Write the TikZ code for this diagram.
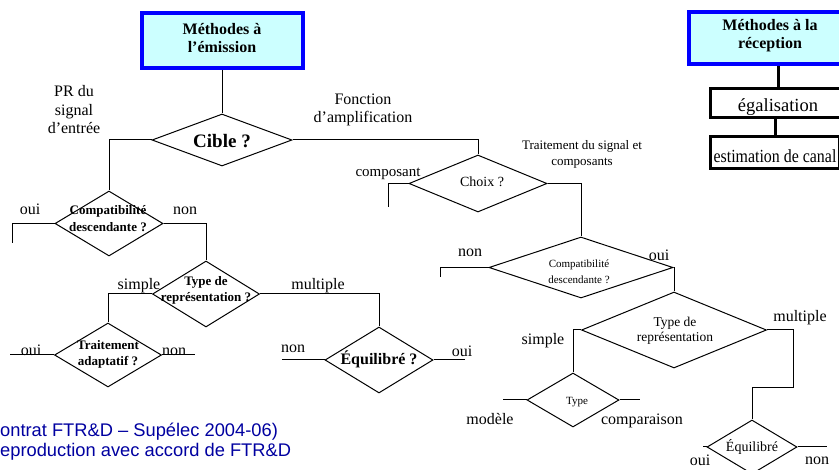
\documentclass[tikz,border=0pt]{standalone}
\usepackage{fontspec}
\setmainfont{Liberation Serif}
\newfontfamily\arialfont{Liberation Sans}
\usetikzlibrary{shapes.geometric}

\definecolor{bleu}{RGB}{0,0,255}
\definecolor{cyanclair}{RGB}{204,255,255}
\definecolor{bleutexte}{RGB}{0,0,160}

\tikzstyle{methode}= [rectangle,draw=bleu,line width=4pt,fill=cyanclair]
\tikzstyle{etape}= [rectangle,draw,black,line width=3pt]
\tikzstyle{question}= [diamond,draw,black,line width=1pt,inner sep=0pt]
\tikzstyle{lien}= [black,line width=1pt]
\tikzstyle{epais}= [black,line width=3pt]
\tikzstyle{etiquette}= [inner sep=0pt,anchor=base,align=center,font=\fontsize{16}{18.5}\selectfont]
\tikzstyle{gras}= [inner sep=0pt,anchor=base,align=center,font=\bfseries\fontsize{13}{17}\selectfont]
\tikzstyle{petit}= [inner sep=0pt,anchor=base,align=center,font=\fontsize{13}{16}\selectfont]

\begin{document}
\begin{tikzpicture}[x=1pt,y=-1pt]
		\useasboundingbox (0,0) rectangle (839,470);

		\node (emission) at (222,40.5) [methode,minimum width=161pt,minimum height=55pt] {};
		\node (emission-t) at (222,53) [gras,font=\bfseries\fontsize{16}{18}\selectfont] {Méthodes à\\l'émission};

		\node (reception) at (770,38) [methode,minimum width=162pt,minimum height=52pt] {};
		\node (reception-t) at (770,49) [gras,font=\bfseries\fontsize{16}{18}\selectfont] {Méthodes à la\\réception};

		\node (egal) at (778,103) [etape,minimum width=135pt,minimum height=29pt] {};
		\node (egal-t) at (778,112) [etiquette,font=\fontsize{18.5}{20}\selectfont] {égalisation};

		\node (estim) at (775,152.5) [etape,minimum width=129pt,minimum height=32pt] {};
		\node (estim-t) at (775,163) [etiquette,font=\fontsize{18.5}{20}\selectfont] {\scalebox{0.86}[1]{estimation de canal}};

		% branche de gauche
		\node (cible) at (222,140) [question,minimum width=140pt,minimum height=52pt] {};
		\node (cible-t) at (222,148) [gras,font=\bfseries\fontsize{19}{20}\selectfont] {Cible ?};

		\node (compL) at (109,223.5) [question,minimum width=108pt,minimum height=65pt] {};
		\node (compL-t) at (108,232) [gras] {Compatibilité\\descendante ?};

		\node (typeL) at (206,294) [question,minimum width=107pt,minimum height=66pt] {};
		\node (typeL-t) at (206,302) [gras,font=\bfseries\fontsize{13}{16}\selectfont] {Type de\\représentation ?};

		\node (traitL) at (108,355) [question,minimum width=107pt,minimum height=64pt] {};
		\node (traitL-t) at (108,366) [gras,font=\bfseries\fontsize{13}{16}\selectfont] {Traitement\\adaptatif ?};

		\node (equiL) at (379,360) [question,minimum width=108pt,minimum height=66pt] {};
		\node (equiL-t) at (379,365) [gras,font=\bfseries\fontsize{16}{18}\selectfont] {Équilibré ?};

		% branche de droite
		\node (choix) at (478,183.5) [question,minimum width=138pt,minimum height=57pt] {};
		\node (choix-t) at (482,187) [petit,font=\fontsize{14}{16}\selectfont] {Choix ?};

		\node (compR) at (581,267.5) [question,minimum width=184pt,minimum height=61pt] {};
		\node (compR-t) at (579,284) [petit,font=\fontsize{11}{16}\selectfont] {Compatibilité\\descendante ?};

		\node (typeR) at (674,330) [question,minimum width=185pt,minimum height=76pt] {};
		\node (typeR-t) at (675,342) [petit,font=\fontsize{13.5}{15.5}\selectfont] {Type de\\représentation};

		\node (typeC) at (573,400) [question,minimum width=92pt,minimum height=54pt] {};
		\node (typeC-t) at (577,405) [petit,font=\fontsize{11}{13}\selectfont] {Type};

		\node (equiR) at (752,447) [question,minimum width=90pt,minimum height=54pt] {};
		\node (equiR-t) at (752,452) [petit,font=\fontsize{14}{16}\selectfont] {Équilibré};

		% etiquettes
		\node (prdu) at (74,134) [etiquette] {PR du\\signal\\d'entrée};
		\node (fonction) at (363,123) [etiquette,font=\fontsize{16}{18}\selectfont] {Fonction\\d'amplification};
		\node (traitsig) at (582,166) [petit] {Traitement du signal et\\composants};
		\node (composant) at (388,177) [etiquette,font=\fontsize{15}{17}\selectfont] {composant};

		\node (ouiA) at (30,215) [etiquette] {oui};
		\node (nonA) at (185,215) [etiquette] {non};
		\node (simpleA) at (139,290) [etiquette] {simple};
		\node (multipleA) at (318,290) [etiquette] {multiple};
		\node (ouiB) at (31,356) [etiquette] {oui};
		\node (nonB) at (174,356) [etiquette] {non};
		\node (nonC) at (293,353) [etiquette] {non};
		\node (ouiC) at (462,357) [etiquette] {oui};
		\node (nonD) at (470,257) [etiquette] {non};
		\node (ouiD) at (659,261) [etiquette] {oui};
		\node (simpleD) at (543,345) [etiquette] {simple};
		\node (multipleD) at (800,322) [etiquette] {multiple};
		\node (modele) at (490,425) [etiquette] {modèle};
		\node (comparaison) at (642,425) [etiquette] {comparaison};
		\node (nonE) at (817,465) [etiquette] {non};
		\node (ouiE) at (700,466) [etiquette] {oui};

		\node (contrat) at (0,437) [inner sep=0pt,anchor=base west,text=bleutexte,font=\arialfont\fontsize{18.3}{20}\selectfont] {ontrat FTR\&D – Supélec 2004-06)};
		\node (accord) at (0,457) [inner sep=0pt,anchor=base west,text=bleutexte,font=\arialfont\fontsize{18.3}{20}\selectfont] {eproduction avec accord de FTR\&D};

		\coordinate (finA) at (12,243);
		\coordinate (finB) at (10,355);
		\coordinate (finC) at (195,355);
		\coordinate (finD) at (282,360);
		\coordinate (finE) at (465,360);
		\coordinate (finF) at (388,207);
		\coordinate (finG) at (440,277);
		\coordinate (finH) at (503,400);
		\coordinate (finI) at (640,400);
		\coordinate (finJ) at (703,447);
		\coordinate (finK) at (827,447);
		\coordinate (coude) at (793,388);

		\draw[lien] (emission.south) -- (cible.north);
		\draw[lien] (cible.west) -| (compL.north);
		\draw[lien] (cible.east) -| (choix.north);
		\draw[lien] (compL.west) -| (finA);
		\draw[lien] (compL.east) -| (typeL.north);
		\draw[lien] (typeL.west) -| (traitL.north);
		\draw[lien] (typeL.east) -| (equiL.north);
		\draw[lien] (traitL.west) -- (finB);
		\draw[lien] (traitL.east) -- (finC);
		\draw[lien] (equiL.west) -- (finD);
		\draw[lien] (equiL.east) -- (finE);

		\draw[lien] (choix.west) -| (finF);
		\draw[lien] (choix.east) -| (compR.north);
		\draw[lien] (compR.west) -| (finG);
		\draw[lien] (compR.east) -| (typeR.north);
		\draw[lien] (typeR.west) -| (typeC.north);
		\draw[lien] (typeR.east) -| (coude) -| (equiR.north);
		\draw[lien] (typeC.west) -- (finH);
		\draw[lien] (typeC.east) -- (finI);
		\draw[lien] (equiR.west) -- (finJ);
		\draw[lien] (equiR.east) -- (finK);

		\draw[epais] (egal.north) -- (egal.north |- reception.south);
		\draw[epais] (estim.north) -- (estim.north |- egal.south);
		%\draw[lien] (cible) -- (choix);
\end{tikzpicture}
\end{document}
